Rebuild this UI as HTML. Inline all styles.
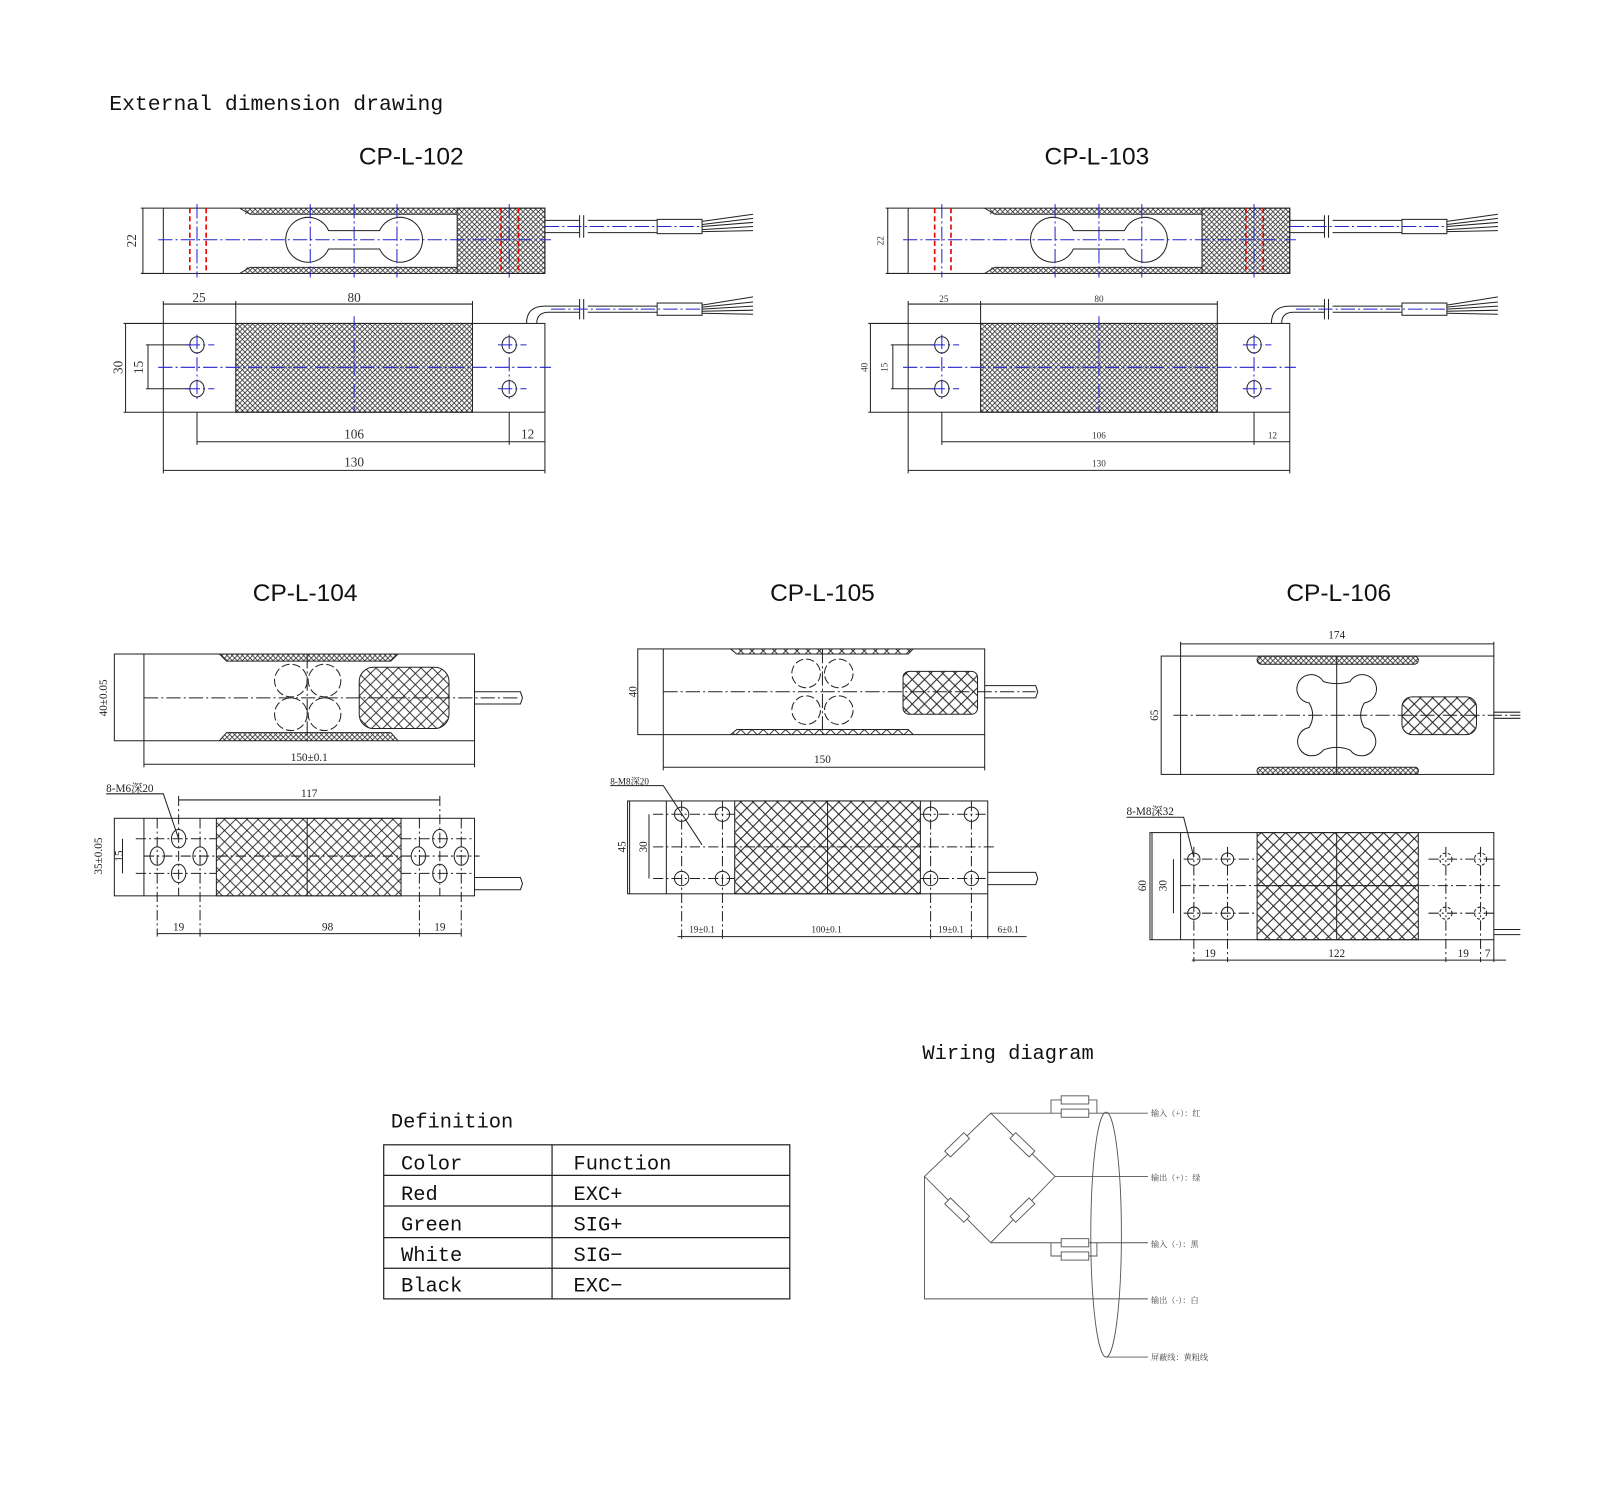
<!DOCTYPE html>
<html><head><meta charset="utf-8"><style>
html,body{margin:0;padding:0;background:#fff;}
svg{display:block;}
.m{font-family:"Liberation Mono","Noto Sans CJK SC",monospace;}
.s{font-family:"Liberation Sans","Noto Sans CJK SC",sans-serif;}
.r{font-family:"Liberation Serif","Noto Serif CJK SC",serif;}
</style></head><body>
<svg width="1600" height="1506" viewBox="0 0 1568 1476" xmlns="http://www.w3.org/2000/svg">
<defs>
<pattern id="h" width="5" height="5" patternUnits="userSpaceOnUse"><path d="M0 0L5 5M5 0L0 5" stroke="#333" stroke-width="0.8"/></pattern>
<pattern id="h2" width="11" height="11" patternUnits="userSpaceOnUse"><path d="M0 0L11 11M11 0L0 11" stroke="#222" stroke-width="0.9"/></pattern>
<pattern id="h3" width="12" height="12" patternUnits="userSpaceOnUse"><path d="M0 0L12 12M12 0L0 12" stroke="#222" stroke-width="1"/></pattern>
<g id="d102" fill="none" stroke="#222" stroke-width="1">
 <rect x="160" y="204" width="374" height="64"/>
 <line x1="138" y1="204" x2="160" y2="204"/><line x1="138" y1="268" x2="160" y2="268"/>
 <line x1="140" y1="204" x2="140" y2="268"/>
 <path d="M235 204 L245 210 L448 210 M235 268 L245 262 L448 262"/>
 <rect x="240" y="204" width="208" height="6" fill="url(#h)" stroke="none"/>
 <rect x="240" y="262" width="208" height="6" fill="url(#h)" stroke="none"/>
 <rect x="448" y="204" width="86" height="64" fill="url(#h)"/>
 <path d="M322 226 L372 226 A22 22 0 1 1 372 244 L322 244 A22 22 0 1 1 322 226Z" fill="#fff"/>
 <g stroke="#e00" stroke-dasharray="5 3" stroke-width="1.6"><line x1="186" y1="204" x2="186" y2="268"/><line x1="202" y1="204" x2="202" y2="268"/><line x1="491" y1="204" x2="491" y2="268"/><line x1="508" y1="204" x2="508" y2="268"/></g>
 <g stroke="#22c" stroke-dasharray="14 3 2 3"><line x1="155" y1="235" x2="540" y2="235"/><line x1="193" y1="200" x2="193" y2="272"/><line x1="304" y1="200" x2="304" y2="272"/><line x1="347" y1="200" x2="347" y2="272"/><line x1="389" y1="200" x2="389" y2="272"/><line x1="499" y1="200" x2="499" y2="272"/></g>
 <path d="M534 216 L568 216 M534 228 L568 228 M576 216 L644 216 M576 228 L644 228"/>
 <path d="M568 211 L568 233 M572 211 L572 233"/>
 <rect x="644" y="215" width="44" height="14"/>
 <path d="M688 217 L738 210 M688 220 L738 214 M688 222 L738 218 M688 225 L738 222 M688 227 L738 226"/>
 <line x1="534" y1="222" x2="688" y2="222" stroke="#22c" stroke-dasharray="14 3 2 3"/>
 <rect x="160" y="317" width="374" height="87"/>
 <line x1="121" y1="317" x2="160" y2="317"/><line x1="121" y1="404" x2="160" y2="404"/><line x1="123" y1="317" x2="123" y2="404"/>
 <path d="M143 338 L190 338 M143 381 L190 381 M145 338 L145 381"/>
 <rect x="231" y="317" width="232" height="87" fill="url(#h)"/>
 <g fill="#fff"><ellipse cx="193" cy="338" rx="7" ry="8"/><ellipse cx="193" cy="381" rx="7" ry="8"/><ellipse cx="499" cy="338" rx="7" ry="8"/><ellipse cx="499" cy="381" rx="7" ry="8"/></g>
 <g stroke="#22c" stroke-dasharray="14 3 2 3"><line x1="155" y1="360" x2="540" y2="360"/><line x1="193" y1="328" x2="193" y2="392"/><line x1="499" y1="328" x2="499" y2="392"/><line x1="347" y1="310" x2="347" y2="404"/><line x1="182" y1="338" x2="210" y2="338"/><line x1="182" y1="381" x2="210" y2="381"/><line x1="488" y1="338" x2="516" y2="338"/><line x1="488" y1="381" x2="516" y2="381"/></g>
 <path d="M160 317 L160 295 M231 317 L231 295 M463 317 L463 295 M160 298 L463 298"/>
 <path d="M193 404 L193 436 M499 404 L499 436 M534 404 L534 464 M160 404 L160 464 M193 433 L534 433 M160 461 L534 461"/>
 <path d="M516 317 Q516 300 534 300 L568 300 M526 317 Q526 306 538 306 L568 306 M576 300 L644 300 M576 306 L644 306 M568 293 L568 313 M572 293 L572 313"/>
 <rect x="644" y="297" width="44" height="12"/>
 <path d="M688 299 L738 291 M688 301 L738 296 M688 303 L738 300 M688 305 L738 304 M688 307 L738 308"/>
 <line x1="540" y1="303" x2="688" y2="303" stroke="#22c" stroke-dasharray="14 3 2 3"/>
</g>
</defs>

<text x="107" y="108" class="m" font-size="21" fill="#111">External dimension drawing</text>
<text x="403" y="161" class="s" font-size="24" text-anchor="middle" fill="#111">CP-L-102</text>
<text x="1075" y="161" class="s" font-size="24" text-anchor="middle" fill="#111">CP-L-103</text>

<use href="#d102"/>
<g class="r" font-size="13" fill="#333">
<text x="195" y="296" text-anchor="middle">25</text><text x="347" y="296" text-anchor="middle">80</text>
<text x="347" y="430" text-anchor="middle">106</text><text x="517" y="430" text-anchor="middle">12</text><text x="347" y="457" text-anchor="middle">130</text>
<text x="120" y="360" transform="rotate(-90 120 360)" text-anchor="middle">30</text><text x="140" y="360" transform="rotate(-90 140 360)" text-anchor="middle">15</text>
<text x="133" y="236" transform="rotate(-90 133 236)" text-anchor="middle">22</text>
</g>
<use href="#d102" transform="translate(730,0)"/>
<g class="r" font-size="9" fill="#333">
<text x="925" y="296" text-anchor="middle">25</text><text x="1077" y="296" text-anchor="middle">80</text>
<text x="1077" y="430" text-anchor="middle">106</text><text x="1247" y="430" text-anchor="middle">12</text><text x="1077" y="457" text-anchor="middle">130</text>
<text x="850" y="360" transform="rotate(-90 850 360)" text-anchor="middle">40</text><text x="870" y="360" transform="rotate(-90 870 360)" text-anchor="middle">15</text>
<text x="866" y="236" transform="rotate(-90 866 236)" text-anchor="middle">22</text>
</g>

<text x="299" y="589" class="s" font-size="24" text-anchor="middle" fill="#111">CP-L-104</text>
<text x="806" y="589" class="s" font-size="24" text-anchor="middle" fill="#111">CP-L-105</text>
<text x="1312" y="589" class="s" font-size="24" text-anchor="middle" fill="#111">CP-L-106</text>

<g fill="none" stroke="#222" stroke-width="1">
<rect x="112" y="641" width="353" height="85"/><line x1="141" y1="641" x2="141" y2="752"/><line x1="465" y1="726" x2="465" y2="752"/>
<path d="M215 641 L222 648 L383 648 L390 641 M215 726 L222 718 L383 718 L390 726" fill="url(#h)"/>
<g stroke-dasharray="8 3"><circle cx="285" cy="667" r="16"/><circle cx="318" cy="667" r="16"/><circle cx="285" cy="700" r="16"/><circle cx="318" cy="700" r="16"/></g>
<rect x="352" y="654" width="88" height="60" rx="14" fill="url(#h2)"/>
<line x1="141" y1="684" x2="510" y2="684" stroke-dasharray="14 3 2 3"/>
<line x1="301" y1="641" x2="301" y2="726" stroke-dasharray="14 3 2 3"/>
<path d="M465 678 L510 678 L512 684 L510 690 L465 690"/>
<line x1="141" y1="749" x2="465" y2="749"/>
<rect x="112" y="802" width="353" height="76"/><line x1="141" y1="802" x2="141" y2="878"/>
<rect x="212" y="802" width="181" height="76" fill="url(#h2)"/>
<line x1="301" y1="802" x2="301" y2="878"/>
<g fill="#fff"><ellipse cx="175" cy="822" rx="7" ry="9"/><ellipse cx="175" cy="856" rx="7" ry="9"/><ellipse cx="154" cy="839" rx="7" ry="9"/><ellipse cx="196" cy="839" rx="7" ry="9"/><ellipse cx="431" cy="822" rx="7" ry="9"/><ellipse cx="431" cy="856" rx="7" ry="9"/><ellipse cx="410" cy="839" rx="7" ry="9"/><ellipse cx="452" cy="839" rx="7" ry="9"/></g>
<g stroke-dasharray="10 3 2 3"><line x1="141" y1="839" x2="470" y2="839"/><line x1="154" y1="802" x2="154" y2="918"/><line x1="175" y1="780" x2="175" y2="878"/><line x1="196" y1="802" x2="196" y2="918"/><line x1="411" y1="802" x2="411" y2="918"/><line x1="431" y1="780" x2="431" y2="878"/><line x1="452" y1="802" x2="452" y2="918"/><line x1="133" y1="822" x2="212" y2="822"/><line x1="133" y1="856" x2="212" y2="856"/><line x1="393" y1="822" x2="465" y2="822"/><line x1="393" y1="856" x2="465" y2="856"/></g>
<path d="M120 822 L120 856 M465 860 L510 860 L512 866 L510 872 L465 872 M175 784 L431 784 M154 915 L452 915 M104 778 L160 778 L175 822"/>
<rect x="625" y="636" width="340" height="84"/><line x1="650" y1="636" x2="650" y2="755"/><line x1="965" y1="720" x2="965" y2="755"/>
<path d="M716 636 L722 641 L890 641 L895 636 M716 720 L722 715 L890 715 L895 720" fill="url(#h2)"/>
<g stroke-dasharray="8 3"><circle cx="790" cy="660" r="14"/><circle cx="822" cy="660" r="14"/><circle cx="790" cy="696" r="14"/><circle cx="822" cy="696" r="14"/></g>
<rect x="885" y="658" width="73" height="42" rx="6" fill="url(#h3)"/>
<line x1="650" y1="678" x2="1015" y2="678" stroke-dasharray="14 3 2 3"/>
<line x1="806" y1="636" x2="806" y2="720" stroke-dasharray="14 3 2 3"/>
<path d="M965 672 L1015 672 L1017 678 L1015 684 L965 684"/>
<line x1="650" y1="752" x2="965" y2="752"/>
<rect x="615" y="785" width="353" height="91"/><line x1="653" y1="785" x2="653" y2="876"/>
<rect x="720" y="785" width="182" height="91" fill="url(#h3)"/><line x1="811" y1="785" x2="811" y2="876"/>
<g fill="#fff"><circle cx="668" cy="798" r="7"/><circle cx="708" cy="798" r="7"/><circle cx="912" cy="798" r="7"/><circle cx="952" cy="798" r="7"/><circle cx="668" cy="861" r="7"/><circle cx="708" cy="861" r="7"/><circle cx="912" cy="861" r="7"/><circle cx="952" cy="861" r="7"/></g>
<g stroke-dasharray="10 3 2 3"><line x1="640" y1="830" x2="975" y2="830"/><line x1="640" y1="798" x2="720" y2="798"/><line x1="640" y1="861" x2="720" y2="861"/><line x1="902" y1="798" x2="968" y2="798"/><line x1="902" y1="861" x2="968" y2="861"/><line x1="668" y1="785" x2="668" y2="920"/><line x1="708" y1="785" x2="708" y2="920"/><line x1="912" y1="785" x2="912" y2="920"/><line x1="952" y1="785" x2="952" y2="920"/></g>
<path d="M617 785 L617 876 M636 798 L636 861 M968 876 L968 920 M664 918 L1006 918 M968 855 L1015 855 L1017 861 L1015 867 L968 867 M598 770 L650 770 L688 828"/>
<rect x="1138" y="643" width="326" height="116"/><line x1="1157" y1="629" x2="1157" y2="759"/><line x1="1464" y1="629" x2="1464" y2="643"/>
<line x1="1157" y1="631" x2="1464" y2="631"/>
<rect x="1232" y="643" width="158" height="8" rx="4" fill="url(#h)"/><rect x="1232" y="752" width="158" height="7" rx="3" fill="url(#h)"/>
<path d="M1297 668 A14 14 0 1 0 1283 689 Q1290 701 1283 713 A14 14 0 1 0 1297 735 Q1310 730 1323 735 A14 14 0 1 0 1337 713 Q1330 701 1337 689 A14 14 0 1 0 1323 668 Q1310 672 1297 668Z"/>
<rect x="1374" y="683" width="73" height="37" rx="10" fill="url(#h3)"/>
<line x1="1150" y1="701" x2="1490" y2="701" stroke-dasharray="14 3 2 3"/>
<line x1="1310" y1="643" x2="1310" y2="759"/>
<path d="M1464 698 L1490 698 M1464 704 L1490 704"/>
<rect x="1127" y="816" width="337" height="105"/><line x1="1157" y1="816" x2="1157" y2="921"/>
<rect x="1232" y="816" width="158" height="105" fill="url(#h3)"/><line x1="1310" y1="816" x2="1310" y2="921"/><line x1="1232" y1="868" x2="1390" y2="868"/>
<g fill="#fff"><circle cx="1170" cy="842" r="6"/><circle cx="1203" cy="842" r="6"/><circle cx="1170" cy="895" r="6"/><circle cx="1203" cy="895" r="6"/></g>
<g stroke-dasharray="3 2"><circle cx="1417" cy="842" r="6"/><circle cx="1451" cy="842" r="6"/><circle cx="1417" cy="895" r="6"/><circle cx="1451" cy="895" r="6"/></g>
<g stroke-dasharray="10 3 2 3"><line x1="1157" y1="868" x2="1470" y2="868"/><line x1="1160" y1="842" x2="1232" y2="842"/><line x1="1160" y1="895" x2="1232" y2="895"/><line x1="1400" y1="842" x2="1464" y2="842"/><line x1="1400" y1="895" x2="1464" y2="895"/><line x1="1170" y1="830" x2="1170" y2="943"/><line x1="1203" y1="830" x2="1203" y2="943"/><line x1="1417" y1="830" x2="1417" y2="943"/><line x1="1451" y1="830" x2="1451" y2="943"/></g>
<path d="M1129 816 L1129 921 M1150 842 L1150 895 M1464 921 L1464 943 M1168 941 L1476 941 M1464 911 L1490 911 M1464 916 L1490 916 M1104 801 L1160 801 L1170 840"/>
</g>
<g class="r" font-size="11" fill="#222">
<text x="105" y="684" transform="rotate(-90 105 684)" text-anchor="middle">40±0.05</text>
<text x="303" y="746" text-anchor="middle">150±0.1</text>
<text x="104" y="776">8-M6深20</text><text x="303" y="781" text-anchor="middle">117</text>
<text x="100" y="839" transform="rotate(-90 100 839)" text-anchor="middle">35±0.05</text><text x="120" y="839" transform="rotate(-90 120 839)" text-anchor="middle">15</text>
<text x="175" y="912" text-anchor="middle">19</text><text x="321" y="912" text-anchor="middle">98</text><text x="431" y="912" text-anchor="middle">19</text>
<text x="624" y="678" transform="rotate(-90 624 678)" text-anchor="middle">40</text><text x="806" y="748" text-anchor="middle">150</text>
<text x="598" y="769" font-size="9">8-M8深20</text>
<text x="613" y="830" transform="rotate(-90 613 830)" text-anchor="middle">45</text><text x="634" y="830" transform="rotate(-90 634 830)" text-anchor="middle">30</text>
<text x="688" y="914" text-anchor="middle" font-size="9">19±0.1</text><text x="810" y="914" text-anchor="middle" font-size="9">100±0.1</text><text x="932" y="914" text-anchor="middle" font-size="9">19±0.1</text><text x="988" y="914" text-anchor="middle" font-size="9">6±0.1</text>
<text x="1310" y="626" text-anchor="middle">174</text><text x="1135" y="701" transform="rotate(-90 1135 701)" text-anchor="middle">65</text>
<text x="1104" y="799">8-M8深32</text>
<text x="1123" y="868" transform="rotate(-90 1123 868)" text-anchor="middle">60</text><text x="1143" y="868" transform="rotate(-90 1143 868)" text-anchor="middle">30</text>
<text x="1186" y="938" text-anchor="middle">19</text><text x="1310" y="938" text-anchor="middle">122</text><text x="1434" y="938" text-anchor="middle">19</text><text x="1458" y="938" text-anchor="middle">7</text>
</g>

<text x="383" y="1105" class="m" font-size="20" fill="#111">Definition</text>
<g fill="none" stroke="#222" stroke-width="1.2">
<rect x="376" y="1122" width="398" height="151"/>
<line x1="541" y1="1122" x2="541" y2="1273"/>
<line x1="376" y1="1152" x2="774" y2="1152"/><line x1="376" y1="1182" x2="774" y2="1182"/><line x1="376" y1="1213" x2="774" y2="1213"/><line x1="376" y1="1243" x2="774" y2="1243"/>
</g>
<g class="m" font-size="20" fill="#111">
<text x="393" y="1146">Color</text><text x="562" y="1146">Function</text>
<text x="393" y="1176">Red</text><text x="562" y="1176">EXC+</text>
<text x="393" y="1206">Green</text><text x="562" y="1206">SIG+</text>
<text x="393" y="1236">White</text><text x="562" y="1236">SIG−</text>
<text x="393" y="1266">Black</text><text x="562" y="1266">EXC−</text>
</g>

<text x="904" y="1038" class="m" font-size="20" fill="#111">Wiring diagram</text>
<g fill="none" stroke="#555" stroke-width="0.9">
<path d="M906 1153 L971 1091 L1034 1153 L971 1218 Z"/>
<path d="M971 1091 L1125 1091 M1034 1153 L1125 1153 M971 1218 L1125 1218 M906 1153 L906 1273 L1125 1273 M1084 1330 L1125 1330"/>
<path d="M1030 1091 L1030 1078 L1075 1078 L1075 1091 M1030 1218 L1030 1231 L1075 1231 L1075 1218"/>
<g fill="#fff"><rect x="1040" y="1074" width="27" height="8"/><rect x="1040" y="1087" width="27" height="8"/><rect x="1040" y="1214" width="27" height="8"/><rect x="1040" y="1227" width="27" height="8"/></g>
<g fill="#fff"><rect x="-13" y="-4" width="26" height="8" transform="translate(938 1122) rotate(-44)"/><rect x="-13" y="-4" width="26" height="8" transform="translate(1002 1122) rotate(44)"/><rect x="-13" y="-4" width="26" height="8" transform="translate(938 1186) rotate(44)"/><rect x="-13" y="-4" width="26" height="8" transform="translate(1002 1186) rotate(-44)"/></g>
<ellipse cx="1084" cy="1210" rx="15" ry="120"/>
</g>
<g font-family="'Noto Serif CJK SC','Noto Sans CJK SC',serif" font-size="8" fill="#444">
<text x="1128" y="1094">输入（+）：红</text>
<text x="1128" y="1157">输出（+）：绿</text>
<text x="1128" y="1222">输入（-）：黑</text>
<text x="1128" y="1277">输出（-）：白</text>
<text x="1128" y="1333">屏蔽线：黄粗线</text>
</g>
</svg>
</body></html>
